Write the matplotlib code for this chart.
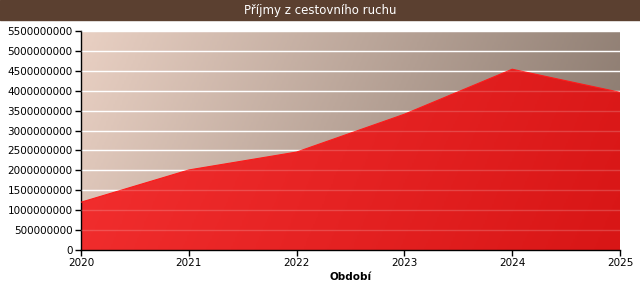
"""Příjmy z cestovního ruchu - area chart with gradient fills."""
import matplotlib
matplotlib.use('Agg')
import matplotlib.pyplot as plt
import numpy as np
from matplotlib.colors import LinearSegmentedColormap

# --- Data ---
years = [2020, 2021, 2022, 2023, 2024, 2025]
income = [1.20e9, 2.01e9, 2.46e9, 3.41e9, 4.54e9, 3.96e9]
y_ticks = list(range(0, 5500000001, 500000000))

TITLE = 'Příjmy z cestovního ruchu'
XLABEL = 'Období'

# --- Palette ---
HEADER = '#5b4030'
BG_LEFT = '#e9d0c3'
BG_RIGHT = '#85756a'
RED_LEFT = '#f43030'
RED_RIGHT = '#d81616'

plt.rcParams.update({
    'font.family': ['DejaVu Sans'],
    'font.size': 7.5,
})

W, H = 640, 290
fig = plt.figure(figsize=(W / 100, H / 100), dpi=100, facecolor='white')

# header bar
fig.patches.append(plt.Rectangle((0, 1 - 20 / H), 1, 20 / H, transform=fig.transFigure,
                                 color=HEADER, zorder=0))
fig.text(0.5, 1 - 10.5 / H, TITLE, color='white', ha='center', va='center',
         fontsize=8.5)

x0, x1, y0, y1 = 81, 620, 250, 31
ax = fig.add_axes([x0 / W, 1 - y0 / H, (x1 - x0) / W, (y0 - y1) / H])

ymax = y_ticks[-1]
ax.set_xlim(years[0], years[-1])
ax.set_ylim(0, ymax)

# diagonal background gradient
gx, gy = np.meshgrid(np.linspace(0, 1, 300), np.linspace(0, 1, 120))
t = np.clip(0.85 * gx + 0.15 * gy, 0, 1)
bg_cmap = LinearSegmentedColormap.from_list('bg', [BG_LEFT, BG_RIGHT])
ax.imshow(t, cmap=bg_cmap, extent=[years[0], years[-1], 0, ymax], aspect='auto',
          origin='upper', zorder=0, vmin=0, vmax=1)

# gridlines under the fill
for v in y_ticks[1:]:
    ax.axhline(v, color='white', linewidth=1, zorder=1)

# red gradient fill clipped to area
red_cmap = LinearSegmentedColormap.from_list('red', [RED_LEFT, RED_RIGHT])
poly = ax.fill_between(years, income, 0, color='none', linewidth=0, zorder=2)
img = ax.imshow(t, cmap=red_cmap, extent=[years[0], years[-1], 0, ymax], aspect='auto',
                origin='upper', zorder=2, vmin=0, vmax=1)
img.set_clip_path(poly.get_paths()[0], transform=ax.transData)
ax.plot(years, income, color='#ff1a1a', linewidth=0.8, zorder=3)

# faint gridlines on top of fill
for v in y_ticks[1:]:
    ax.plot([years[0], years[-1]], [v, v], color='white', alpha=0.18,
            linewidth=1, zorder=3)

ax.set_xticks(years)
ax.set_xticklabels([str(y) for y in years])
ax.set_yticks(y_ticks)
ax.set_yticklabels([str(v) for v in y_ticks])
ax.tick_params(direction='out', length=4, width=1, color='black', labelcolor='black',
               labelsize=7.5, pad=2)
for s in ['top', 'right']:
    ax.spines[s].set_visible(False)
for s in ['left', 'bottom']:
    ax.spines[s].set_color('black')
    ax.spines[s].set_linewidth(1)
ax.set_xlabel(XLABEL, fontweight='bold', fontsize=7.5, labelpad=3)

fig.savefig('out.png', dpi=100, facecolor='white')
